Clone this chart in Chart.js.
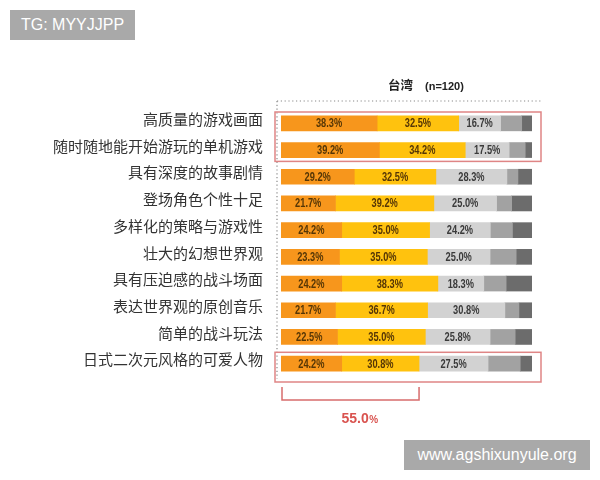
<!DOCTYPE html>
<html>
<head>
<meta charset="utf-8">
<script src="https://cdn.jsdelivr.net/npm/chart.js@4.4.0/dist/chart.umd.min.js"></script>
<style>
    body { margin: 0; background: #fff; }
    #wrap { position: relative; width: 600px; height: 480px; }
    .tag {
        position: absolute;
        background: #a9a9a9;
        color: #fff;
        font: 16px 'Liberation Sans', Arial, sans-serif;
        line-height: 30px;
        text-align: center;
    }
</style>
</head>
<body>
<div id="wrap">
    <canvas id="myChart" width="600" height="480"></canvas>
    <div class="tag" style="left:10px; top:10px; width:125px; height:30px;">TG: MYYJJPP</div>
    <div class="tag" style="left:404px; top:440px; width:186px; height:30px;">www.agshixunyule.org</div>
</div>
<script>
// Dữ liệu: tỷ lệ (%) theo từng mục
const categories = [
    '高质量的游戏画面',
    '随时随地能开始游玩的单机游戏',
    '具有深度的故事剧情',
    '登场角色个性十足',
    '多样化的策略与游戏性',
    '壮大的幻想世界观',
    '具有压迫感的战斗场面',
    '表达世界观的原创音乐',
    '简单的战斗玩法',
    '日式二次元风格的可爱人物'
];
const pctOrange    = [38.3, 39.2, 29.2, 21.7, 24.2, 23.3, 24.2, 21.7, 22.5, 24.2];
const pctYellow    = [32.5, 34.2, 32.5, 39.2, 35.0, 35.0, 38.3, 36.7, 35.0, 30.8];
const pctLightGray = [16.7, 17.5, 28.3, 25.0, 24.2, 25.0, 18.3, 30.8, 25.8, 27.5];
const pctMidGray   = [8.4, 6.4, 4.4, 6.0, 8.8, 10.4, 8.9, 5.6, 10.0, 12.8];
const pctDarkGray  = [4.1, 2.7, 5.6, 8.1, 7.8, 6.3, 10.3, 5.2, 6.7, 4.7];

const titleRegion = '台湾';
const titleSample = '(n=120)';
const highlightRows = [[0, 1], [9, 9]]; // các hàng được khoanh đỏ
const bracketRow = 9;

// Plugin vẽ nhãn %, đường chấm, khung đỏ, ngoặc 55.0%
const decorPlugin = {
    id: 'decor',
    afterDatasetsDraw(chart) {
        const ctx = chart.ctx;
        const area = chart.chartArea;
        const xs = chart.scales.x;
        const ys = chart.scales.y;
        const step = ys.getPixelForValue(1) - ys.getPixelForValue(0);

        // nhãn phần trăm trong 3 đoạn đầu
        ctx.save();
        ctx.textAlign = 'center';
        ctx.textBaseline = 'middle';
        ctx.font = "bold 12.5px 'Liberation Sans Narrow', sans-serif";
        [0, 1, 2].forEach(di => {
            const meta = chart.getDatasetMeta(di);
            const values = chart.data.datasets[di].data;
            meta.data.forEach((bar, i) => {
                const cx = (bar.x + bar.base) / 2;
                ctx.save();
                ctx.translate(cx, bar.y + 0.5);
                ctx.scale(0.74, 1);
                ctx.fillStyle = di < 2 ? '#553606' : '#3a3a3a';
                ctx.fillText(values[i].toFixed(1) + '%', 0, 0);
                ctx.restore();
            });
        });
        ctx.restore();

        // đường chấm
        ctx.save();
        ctx.strokeStyle = '#8a8a8a';
        ctx.lineWidth = 1.2;
        ctx.setLineDash([1.2, 2.6]);
        ctx.beginPath();
        ctx.moveTo(area.left - 4, area.top - 9);
        ctx.lineTo(area.right + 9, area.top - 9);
        ctx.moveTo(area.left - 4, area.top - 9);
        ctx.lineTo(area.left - 4, area.bottom + 2);
        ctx.stroke();
        ctx.restore();

        // khung đỏ
        ctx.save();
        ctx.strokeStyle = '#df8585';
        ctx.lineWidth = 1.5;
        highlightRows.forEach(([a, b]) => {
            const top = ys.getPixelForValue(a) - step / 2 + 2;
            const bottom = ys.getPixelForValue(b) + step / 2 + (a === b ? 5 : -2);
            ctx.strokeRect(area.left - 6, top, area.right - area.left + 15, bottom - top);
        });

        // ngoặc dưới cùng
        const sum = pctOrange[bracketRow] + pctYellow[bracketRow];
        const bx0 = xs.getPixelForValue(0) + 1;
        const bx1 = xs.getPixelForValue(sum);
        const by0 = area.bottom + 10;
        const by1 = area.bottom + 23;
        ctx.strokeStyle = '#d86c6c';
        ctx.beginPath();
        ctx.moveTo(bx0, by0);
        ctx.lineTo(bx0, by1);
        ctx.lineTo(bx1, by1);
        ctx.lineTo(bx1, by0);
        ctx.stroke();

        const numText = sum.toFixed(1);
        ctx.fillStyle = '#d9534f';
        ctx.textBaseline = 'alphabetic';
        ctx.textAlign = 'left';
        ctx.font = "bold 14px 'Liberation Sans', sans-serif";
        const w1 = ctx.measureText(numText).width;
        ctx.font = "bold 10px 'Liberation Sans', sans-serif";
        const w2 = ctx.measureText('%').width;
        const startX = (bx0 + bx1) / 2 + 9 - (w1 + w2) / 2;
        ctx.font = "bold 14px 'Liberation Sans', sans-serif";
        ctx.fillText(numText, startX, by1 + 23);
        ctx.font = "bold 10px 'Liberation Sans', sans-serif";
        ctx.fillText('%', startX + w1 + 0.5, by1 + 23);

        // tiêu đề
        ctx.fillStyle = '#222';
        ctx.font = "bold 12.5px 'Noto Sans CJK SC', sans-serif";
        ctx.fillText(titleRegion, 388, 90);
        ctx.font = "bold 11px 'Liberation Sans', sans-serif";
        ctx.fillText(titleSample, 425, 90);
        ctx.restore();
    }
};

function createChart() {
    const ctx = document.getElementById('myChart').getContext('2d');
    const mk = (label, data, color) => ({
        label: label,
        data: data,
        backgroundColor: color,
        borderWidth: 0,
        barThickness: 15
    });

    new Chart(ctx, {
        type: 'bar',
        data: {
            labels: categories,
            datasets: [
                mk('orange', pctOrange, '#f7961c'),
                mk('yellow', pctYellow, '#ffc20e'),
                mk('lightgray', pctLightGray, '#d2d2d2'),
                mk('midgray', pctMidGray, '#a2a2a2'),
                mk('darkgray', pctDarkGray, '#6c6c6c')
            ]
        },
        options: {
            indexAxis: 'y',
            responsive: false,
            animation: false,
            layout: { padding: { left: 0, right: 68, top: 110, bottom: 103 } },
            plugins: {
                legend: { display: false },
                tooltip: { enabled: false },
                title: { display: false }
            },
            scales: {
                x: {
                    stacked: true,
                    min: 0,
                    max: 100,
                    display: false
                },
                y: {
                    stacked: true,
                    grid: { display: false, drawTicks: false },
                    border: { display: false },
                    afterFit(scale) { scale.width = 281; },
                    ticks: {
                        padding: 18,
                        labelOffset: -4,
                        color: '#333',
                        font: { family: "'Noto Sans CJK SC', sans-serif", size: 15 }
                    }
                }
            }
        },
        plugins: [decorPlugin]
    });
}

createChart();
</script>
</body>
</html>
